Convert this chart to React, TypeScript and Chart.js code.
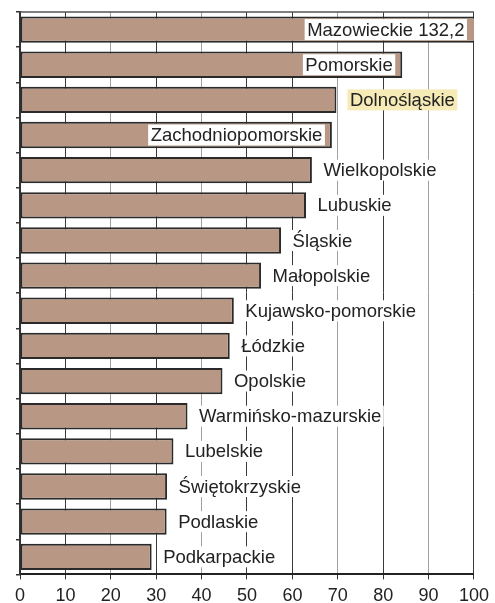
import React, { useEffect, useRef } from "react";
import { Chart, registerables } from "chart.js";

Chart.register(...registerables);

const regions: string[] = [
  "Mazowieckie",
  "Pomorskie",
  "Dolnośląskie",
  "Zachodniopomorskie",
  "Wielkopolskie",
  "Lubuskie",
  "Śląskie",
  "Małopolskie",
  "Kujawsko-pomorskie",
  "Łódzkie",
  "Opolskie",
  "Warmińsko-mazurskie",
  "Lubelskie",
  "Świętokrzyskie",
  "Podlaskie",
  "Podkarpackie",
];

const values: number[] = [
  132.2, 84.2, 69.7, 68.7, 64.3, 63.0, 57.5, 53.1, 47.1, 46.2, 44.6, 36.9, 33.8, 32.4, 32.3, 29.0,
];

const axisMax = 100;
const axisStep = 10;
const highlighted = "Dolnośląskie";
const insideThreshold = 65;

const FONT = "'Liberation Sans', Arial, Helvetica, sans-serif";

const labelPlugin = {
  id: "barLabels",
  afterDatasetsDraw(chart: any) {
    const { ctx, chartArea } = chart;
    const meta = chart.getDatasetMeta(0);
    ctx.save();
    ctx.font = `18.5px ${FONT}`;
    ctx.textBaseline = "middle";
    meta.data.forEach((bar: any, i: number) => {
      const name = regions[i];
      const v = values[i];
      const text = v > axisMax ? `${name} ${v.toFixed(1).replace(".", ",")}` : name;
      const end = Math.min(bar.x, chartArea.right);
      const w = ctx.measureText(text).width;
      const y = bar.y;
      const boxH = 21;
      let x0: number;
      const isHi = name === highlighted;
      if (!isHi && v > insideThreshold) {
        x0 = end - 8 - w - 4;
      } else {
        x0 = end + (isHi ? 11 : 9);
      }
      ctx.fillStyle = isHi ? "#f6eab6" : "#ffffff";
      ctx.fillRect(x0, y - boxH / 2, w + 5, boxH);
      ctx.fillStyle = "#222222";
      ctx.textAlign = "left";
      ctx.fillText(text, x0 + 2.5, y + 1);
    });
    ctx.restore();
  },
};

const topBorderPlugin = {
  id: "topBorder",
  beforeDatasetsDraw(chart: any) {
    const { ctx, chartArea } = chart;
    ctx.save();
    ctx.strokeStyle = "#555555";
    ctx.lineWidth = 1.5;
    ctx.beginPath();
    ctx.moveTo(chartArea.left, chartArea.top);
    ctx.lineTo(chartArea.right, chartArea.top);
    ctx.stroke();
    ctx.restore();
  },
};

export default function App() {
  const ref = useRef<HTMLCanvasElement>(null);

  useEffect(() => {
    if (!ref.current) return;
    const lightTicks = [20, 40, 70, 90];
    const chart = new Chart(ref.current, {
      type: "bar",
      data: {
        labels: regions,
        datasets: [
          {
            data: values,
            backgroundColor: "#b89884",
            borderColor: "#2a2a2a",
            borderWidth: 2,
            borderSkipped: false,
            barPercentage: 0.75,
            categoryPercentage: 1,
          },
        ],
      },
      options: {
        indexAxis: "y",
        animation: false,
        responsive: false,
        maintainAspectRatio: false,
        layout: { padding: { left: 16, right: 19, top: 12, bottom: -10 } },
        plugins: {
          legend: { display: false },
          tooltip: { enabled: false },
        },
        scales: {
          x: {
            min: 0,
            max: axisMax,
            ticks: {
              stepSize: axisStep,
              color: "#222222",
              padding: 6,
              font: { size: 18, family: FONT },
            },
            grid: {
              color: (c: any) => (lightTicks.includes(c.tick?.value) ? "#a0a0a0" : "#3a3a3a"),
              tickColor: "#333333",
              tickLength: 5,
              lineWidth: 1,
            },
            border: { color: "#222222", width: 2 },
          },
          y: {
            ticks: { display: false },
            grid: {
              drawOnChartArea: false,
              tickColor: "#333333",
              tickLength: 4,
              lineWidth: 1.5,
            },
            border: { color: "#333333", width: 2 },
          },
        },
      },
      plugins: [topBorderPlugin, labelPlugin],
    });
    return () => chart.destroy();
  }, []);

  return (
    <div style={{ position: "absolute", left: 0, top: 0, width: 495, height: 603, background: "#fff" }}>
      <canvas ref={ref} width={495} height={603} />
    </div>
  );
}
